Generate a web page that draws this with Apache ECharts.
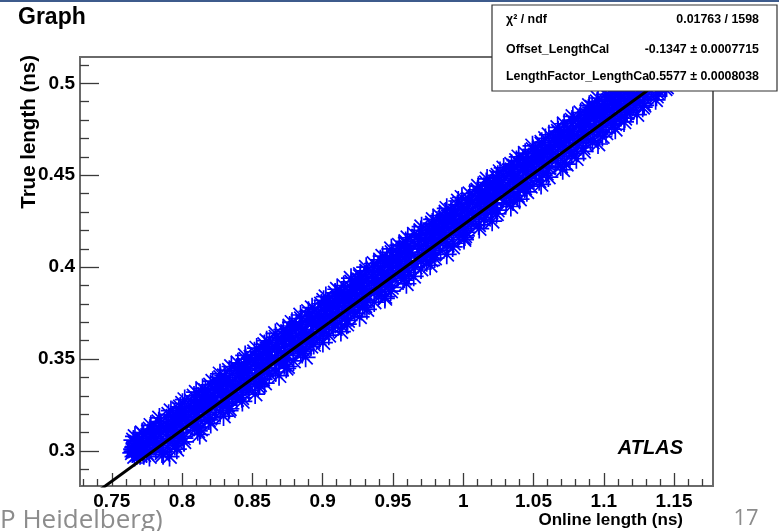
<!DOCTYPE html>
<html>
<head>
<meta charset="utf-8">
<script src="https://cdn.jsdelivr.net/npm/echarts@6/dist/echarts.min.js"></script>
<style>
  html, body { margin: 0; padding: 0; background: #fff; }
  #chart { width: 779px; height: 531px; }
</style>
</head>
<body>
<div id="chart"></div>
<script>
// Axis ranges (ns)
const onlineRange = [0.7274, 1.1777];
const trueRange = [0.281, 0.5143];

// Tick values
const xMajorTicks = [0.75, 0.8, 0.85, 0.9, 0.95, 1, 1.05, 1.1, 1.15];
const xMinorTicks = [0.73, 0.74, 0.76, 0.77, 0.78, 0.79, 0.81, 0.82, 0.83, 0.84, 0.86, 0.87, 0.88, 0.89,
  0.91, 0.92, 0.93, 0.94, 0.96, 0.97, 0.98, 0.99, 1.01, 1.02, 1.03, 1.04, 1.06, 1.07, 1.08, 1.09,
  1.11, 1.12, 1.13, 1.14, 1.16, 1.17];
const yMajorTicks = [0.3, 0.35, 0.4, 0.45, 0.5];
const yMinorTicks = [0.29, 0.31, 0.32, 0.33, 0.34, 0.36, 0.37, 0.38, 0.39, 0.41, 0.42, 0.43, 0.44,
  0.46, 0.47, 0.48, 0.49, 0.51];

// Linear fit result: true = offset + factor * online
const fitOffset = -0.1347;
const fitOffsetErr = 0.0007715;
const fitFactor = 0.5577;
const fitFactorErr = 0.0008038;
const chi2 = 0.01763;
const ndf = 1598;

// Graph points: [online length, true length]
const measurements = [
  [0.7662,0.297],[0.7701,0.298],[0.7768,0.297],[0.7865,0.298],
  [0.7646,0.299],[0.7667,0.300],[0.7747,0.299],[0.7867,0.300],
  [0.7652,0.301],[0.7743,0.302],[0.7813,0.301],[0.7853,0.302],
  [0.7699,0.303],[0.7749,0.304],[0.7809,0.303],[0.7969,0.304],
  [0.7674,0.305],[0.7804,0.306],[0.7894,0.305],[0.7934,0.306],
  [0.7750,0.307],[0.7800,0.308],[0.7900,0.307],[0.8000,0.308],
  [0.7726,0.309],[0.7896,0.310],[0.7946,0.309],[0.7986,0.310],
  [0.7802,0.311],[0.7892,0.312],[0.7942,0.311],[0.8132,0.312],
  [0.7888,0.313],[0.7938,0.314],[0.8028,0.313],[0.8088,0.314],
  [0.7844,0.315],[0.7954,0.316],[0.8034,0.315],[0.8104,0.316],
  [0.7939,0.317],[0.8029,0.318],[0.8119,0.317],[0.8199,0.318],
  [0.7935,0.319],[0.8015,0.320],[0.8095,0.319],[0.8185,0.320],
  [0.7991,0.321],[0.8091,0.322],[0.8161,0.321],[0.8331,0.322],
  [0.7977,0.323],[0.8107,0.324],[0.8187,0.323],[0.8237,0.324],
  [0.8093,0.325],[0.8183,0.326],[0.8243,0.325],[0.8313,0.326],
  [0.8069,0.327],[0.8169,0.328],[0.8229,0.327],[0.8389,0.328],
  [0.8145,0.329],[0.8225,0.330],[0.8285,0.329],[0.8355,0.330],
  [0.8160,0.331],[0.8280,0.332],[0.8360,0.331],[0.8430,0.332],
  [0.8166,0.333],[0.8266,0.334],[0.8366,0.333],[0.8436,0.334],
  [0.8282,0.335],[0.8342,0.336],[0.8382,0.335],[0.8552,0.336],
  [0.8258,0.337],[0.8358,0.338],[0.8458,0.337],[0.8518,0.338],
  [0.8314,0.339],[0.8434,0.340],[0.8464,0.339],[0.8524,0.340],
  [0.8300,0.341],[0.8420,0.342],[0.8520,0.341],[0.8620,0.342],
  [0.8406,0.343],[0.8476,0.344],[0.8586,0.343],[0.8606,0.344],
  [0.8391,0.345],[0.8531,0.346],[0.8561,0.345],[0.8751,0.346],
  [0.8447,0.347],[0.8517,0.348],[0.8617,0.347],[0.8687,0.348],
  [0.8523,0.349],[0.8593,0.350],[0.8673,0.349],[0.8743,0.350],
  [0.8489,0.351],[0.8609,0.352],[0.8659,0.351],[0.8739,0.352],
  [0.8575,0.353],[0.8685,0.354],[0.8735,0.353],[0.8845,0.354],
  [0.8581,0.355],[0.8671,0.356],[0.8791,0.355],[0.8821,0.356],
  [0.8677,0.357],[0.8727,0.358],[0.8787,0.357],[0.8937,0.358],
  [0.8622,0.359],[0.8782,0.360],[0.8832,0.359],[0.8912,0.360],
  [0.8708,0.361],[0.8768,0.362],[0.8888,0.361],[0.8918,0.362],
  [0.8764,0.363],[0.8844,0.364],[0.8884,0.363],[0.9004,0.364],
  [0.8750,0.365],[0.8860,0.366],[0.8980,0.365],[0.9010,0.366],
  [0.8806,0.367],[0.8936,0.368],[0.8986,0.367],[0.9136,0.368],
  [0.8812,0.369],[0.8922,0.370],[0.9002,0.369],[0.9072,0.370],
  [0.8918,0.371],[0.8978,0.372],[0.9068,0.371],[0.9158,0.372],
  [0.8903,0.373],[0.9033,0.374],[0.9053,0.373],[0.9133,0.374],
  [0.8969,0.375],[0.9019,0.376],[0.9119,0.375],[0.9199,0.376],
  [0.8945,0.377],[0.9095,0.378],[0.9185,0.377],[0.9285,0.378],
  [0.9071,0.379],[0.9111,0.380],[0.9201,0.379],[0.9251,0.380],
  [0.9037,0.381],[0.9187,0.382],[0.9207,0.381],[0.9317,0.382],
  [0.9103,0.383],[0.9173,0.384],[0.9283,0.383],[0.9443,0.384],
  [0.9159,0.385],[0.9229,0.386],[0.9289,0.385],[0.9369,0.386],
  [0.9134,0.387],[0.9284,0.388],[0.9334,0.387],[0.9384,0.388],
  [0.9200,0.389],[0.9270,0.390],[0.9410,0.389],[0.9470,0.390],
  [0.9276,0.391],[0.9346,0.392],[0.9416,0.391],[0.9466,0.392],
  [0.9262,0.393],[0.9362,0.394],[0.9412,0.393],[0.9582,0.394],
  [0.9268,0.395],[0.9438,0.396],[0.9498,0.395],[0.9558,0.396],
  [0.9364,0.397],[0.9424,0.398],[0.9504,0.397],[0.9564,0.398],
  [0.9360,0.399],[0.9480,0.400],[0.9580,0.399],[0.9660,0.400],
  [0.9465,0.401],[0.9535,0.402],[0.9585,0.401],[0.9655,0.402],
  [0.9461,0.403],[0.9521,0.404],[0.9601,0.403],[0.9771,0.404],
  [0.9457,0.405],[0.9597,0.406],[0.9677,0.405],[0.9717,0.406],
  [0.9553,0.407],[0.9613,0.408],[0.9703,0.407],[0.9783,0.408],
  [0.9549,0.409],[0.9689,0.410],[0.9769,0.409],[0.9779,0.410],
  [0.9595,0.411],[0.9675,0.412],[0.9755,0.411],[0.9885,0.412],
  [0.9591,0.413],[0.9731,0.414],[0.9801,0.413],[0.9871,0.414],
  [0.9706,0.415],[0.9786,0.416],[0.9856,0.415],[1.0006,0.416],
  [0.9682,0.417],[0.9772,0.418],[0.9842,0.417],[0.9932,0.418],
  [0.9758,0.419],[0.9848,0.420],[0.9918,0.419],[1.0008,0.420],
  [0.9824,0.421],[0.9864,0.422],[0.9974,0.421],[0.9994,0.422],
  [0.9780,0.423],[0.9940,0.424],[0.9970,0.423],[1.0060,0.424],
  [0.9856,0.425],[0.9926,0.426],[1.0036,0.425],[1.0146,0.426],
  [0.9872,0.427],[0.9982,0.428],[1.0032,0.427],[1.0112,0.428],
  [0.9947,0.429],[1.0037,0.430],[1.0087,0.429],[1.0197,0.430],
  [0.9913,0.431],[1.0023,0.432],[1.0163,0.431],[1.0193,0.432],
  [0.9989,0.433],[1.0099,0.434],[1.0169,0.433],[1.0209,0.434],
  [1.0065,0.435],[1.0115,0.436],[1.0215,0.435],[1.0355,0.436],
  [1.0041,0.437],[1.0191,0.438],[1.0221,0.437],[1.0311,0.438],
  [1.0117,0.439],[1.0177,0.440],[1.0237,0.439],[1.0327,0.440],
  [1.0103,0.441],[1.0233,0.442],[1.0333,0.441],[1.0403,0.442],
  [1.0218,0.443],[1.0288,0.444],[1.0338,0.443],[1.0478,0.444],
  [1.0194,0.445],[1.0274,0.446],[1.0394,0.445],[1.0424,0.446],
  [1.0250,0.447],[1.0350,0.448],[1.0390,0.447],[1.0480,0.448],
  [1.0236,0.449],[1.0366,0.450],[1.0456,0.449],[1.0566,0.450],
  [1.0342,0.451],[1.0442,0.452],[1.0522,0.451],[1.0542,0.452],
  [1.0348,0.453],[1.0428,0.454],[1.0508,0.453],[1.0608,0.454],
  [1.0364,0.455],[1.0484,0.456],[1.0574,0.455],[1.0734,0.456],
  [1.0459,0.457],[1.0539,0.458],[1.0589,0.457],[1.0659,0.458],
  [1.0425,0.459],[1.0525,0.460],[1.0655,0.459],[1.0675,0.460],
  [1.0511,0.461],[1.0601,0.462],[1.0631,0.461],[1.0771,0.462],
  [1.0517,0.463],[1.0617,0.464],[1.0707,0.463],[1.0757,0.464],
  [1.0613,0.465],[1.0693,0.466],[1.0753,0.465],[1.0813,0.466],
  [1.0559,0.467],[1.0679,0.468],[1.0759,0.467],[1.0919,0.468],
  [1.0645,0.469],[1.0735,0.470],[1.0845,0.469],[1.0875,0.470],
  [1.0700,0.471],[1.0790,0.472],[1.0820,0.471],[1.0890,0.472],
  [1.0686,0.473],[1.0776,0.474],[1.0876,0.473],[1.0976,0.474],
  [1.0742,0.475],[1.0852,0.476],[1.0932,0.475],[1.0972,0.476],
  [1.0818,0.477],[1.0868,0.478],[1.0978,0.477],[1.1078,0.478],
  [1.0784,0.479],[1.0944,0.480],[1.0994,0.479],[1.1064,0.480],
  [1.0870,0.481],[1.0930,0.482],[1.1010,0.481],[1.1070,0.482],
  [1.0876,0.483],[1.0986,0.484],[1.1076,0.483],[1.1166,0.484],
  [1.0971,0.485],[1.1041,0.486],[1.1061,0.485],[1.1161,0.486],
  [1.0917,0.487],[1.1027,0.488],[1.1127,0.487],[1.1287,0.488],
  [1.1003,0.489],[1.1103,0.490],[1.1193,0.489],[1.1223,0.490],
  [1.1059,0.491],[1.1119,0.492],[1.1209,0.491],[1.1289,0.492],
  [1.1045,0.493],[1.1195,0.494],[1.1215,0.493],[1.1285,0.494],
  [1.1101,0.495],[1.1181,0.496],[1.1291,0.495],[1.1391,0.496],
  [1.1177,0.497],[1.1237,0.498],[1.1307,0.497],[1.1447,0.498],
  [1.1142,0.499],[1.1292,0.500],[1.1382,0.499],[1.1442,0.500],

  [0.7678,0.298],[0.7911,0.297],[0.7728,0.298],
  [0.7655,0.300],[0.7857,0.299],[0.7687,0.300],
  [0.7660,0.302],[0.7963,0.301],[0.7663,0.302],
  [0.7668,0.304],[0.7949,0.303],[0.7739,0.304],
  [0.7654,0.306],[0.8014,0.305],[0.7814,0.306],
  [0.7665,0.308],[0.8010,0.307],[0.7780,0.308],
  [0.7716,0.310],[0.8126,0.309],[0.7856,0.310],
  [0.7772,0.312],[0.8112,0.311],[0.7832,0.312],
  [0.7778,0.314],[0.8108,0.313],[0.7948,0.314],
  [0.7834,0.316],[0.8204,0.315],[0.7944,0.316],
  [0.7839,0.318],[0.8189,0.317],[0.7999,0.318],
  [0.7905,0.320],[0.8295,0.319],[0.7995,0.320],
  [0.7921,0.322],[0.8271,0.321],[0.8101,0.322],
  [0.7987,0.324],[0.8337,0.323],[0.8047,0.324],
  [0.8003,0.326],[0.8323,0.325],[0.8123,0.326],
  [0.8019,0.328],[0.8429,0.327],[0.8189,0.328],
  [0.8085,0.330],[0.8425,0.329],[0.8165,0.330],
  [0.8100,0.332],[0.8520,0.331],[0.8240,0.332],
  [0.8146,0.334],[0.8476,0.333],[0.8256,0.334],
  [0.8202,0.336],[0.8542,0.335],[0.8342,0.336],
  [0.8218,0.338],[0.8588,0.337],[0.8308,0.338],
  [0.8274,0.340],[0.8574,0.339],[0.8414,0.340],
  [0.8270,0.342],[0.8690,0.341],[0.8410,0.342],
  [0.8336,0.344],[0.8666,0.343],[0.8466,0.344],
  [0.8351,0.346],[0.8741,0.345],[0.8441,0.346],
  [0.8397,0.348],[0.8727,0.347],[0.8567,0.348],
  [0.8453,0.350],[0.8793,0.349],[0.8543,0.350],
  [0.8449,0.352],[0.8879,0.351],[0.8619,0.352],
  [0.8515,0.354],[0.8855,0.353],[0.8605,0.354],
  [0.8531,0.356],[0.8861,0.355],[0.8671,0.356],
  [0.8587,0.358],[0.8917,0.357],[0.8727,0.358],
  [0.8602,0.360],[0.9002,0.359],[0.8722,0.360],
  [0.8668,0.362],[0.8978,0.361],[0.8728,0.362],
  [0.8664,0.364],[0.9044,0.363],[0.8844,0.364],
  [0.8720,0.366],[0.9130,0.365],[0.8850,0.366],
  [0.8766,0.368],[0.9076,0.367],[0.8846,0.368],
  [0.8782,0.370],[0.9172,0.369],[0.8932,0.370],
  [0.8848,0.372],[0.9178,0.371],[0.8928,0.372],
  [0.8843,0.374],[0.9263,0.373],[0.9033,0.374],
  [0.8899,0.376],[0.9229,0.375],[0.9019,0.376],
  [0.8925,0.378],[0.9315,0.377],[0.9055,0.378],
  [0.8991,0.380],[0.9301,0.379],[0.9051,0.380],
  [0.9007,0.382],[0.9367,0.381],[0.9157,0.382],
  [0.9023,0.384],[0.9443,0.383],[0.9153,0.384],
  [0.9089,0.386],[0.9399,0.385],[0.9239,0.386],
  [0.9104,0.388],[0.9484,0.387],[0.9214,0.388],
  [0.9150,0.390],[0.9490,0.389],[0.9280,0.390],
  [0.9206,0.392],[0.9596,0.391],[0.9276,0.392],
  [0.9202,0.394],[0.9572,0.393],[0.9362,0.394],
  [0.9268,0.396],[0.9648,0.395],[0.9428,0.396],
  [0.9314,0.398],[0.9614,0.397],[0.9394,0.398],
  [0.9310,0.400],[0.9700,0.399],[0.9470,0.400],
  [0.9365,0.402],[0.9765,0.401],[0.9535,0.402],
  [0.9411,0.404],[0.9741,0.403],[0.9491,0.404],
  [0.9427,0.406],[0.9797,0.405],[0.9557,0.406],
  [0.9493,0.408],[0.9883,0.407],[0.9623,0.408],
  [0.9489,0.410],[0.9839,0.409],[0.9589,0.410],
  [0.9545,0.412],[0.9925,0.411],[0.9675,0.412],
  [0.9591,0.414],[0.9931,0.413],[0.9691,0.414],
  [0.9606,0.416],[1.0006,0.415],[0.9776,0.416],
  [0.9652,0.418],[1.0012,0.417],[0.9782,0.418],
  [0.9698,0.420],[1.0018,0.419],[0.9778,0.420],
  [0.9704,0.422],[1.0114,0.421],[0.9884,0.422],
  [0.9780,0.424],[1.0110,0.423],[0.9870,0.424],
  [0.9786,0.426],[1.0206,0.425],[0.9936,0.426],
  [0.9832,0.428],[1.0152,0.427],[0.9912,0.428],
  [0.9877,0.430],[1.0237,0.429],[1.0037,0.430],
  [0.9883,0.432],[1.0243,0.431],[1.0023,0.432],
  [0.9959,0.434],[1.0339,0.433],[1.0039,0.434],
  [0.9965,0.436],[1.0305,0.435],[1.0125,0.436],
  [0.9991,0.438],[1.0401,0.437],[1.0171,0.438],
  [1.0047,0.440],[1.0387,0.439],[1.0157,0.440],
  [1.0103,0.442],[1.0453,0.441],[1.0173,0.442],
  [1.0108,0.444],[1.0438,0.443],[1.0258,0.444],
  [1.0164,0.446],[1.0554,0.445],[1.0274,0.446],
  [1.0170,0.448],[1.0540,0.447],[1.0360,0.448],
  [1.0246,0.450],[1.0606,0.449],[1.0326,0.450],
  [1.0262,0.452],[1.0592,0.451],[1.0342,0.452],
  [1.0288,0.454],[1.0708,0.453],[1.0448,0.454],
  [1.0344,0.456],[1.0694,0.455],[1.0464,0.456],
  [1.0379,0.458],[1.0719,0.457],[1.0449,0.458],
  [1.0395,0.460],[1.0805,0.459],[1.0555,0.460],
  [1.0441,0.462],[1.0771,0.461],[1.0561,0.462],
  [1.0497,0.464],[1.0857,0.463],[1.0577,0.464],
  [1.0493,0.466],[1.0853,0.465],[1.0673,0.466],
  [1.0559,0.468],[1.0959,0.467],[1.0679,0.468],
  [1.0585,0.470],[1.0905,0.469],[1.0675,0.470],
  [1.0610,0.472],[1.0990,0.471],[1.0760,0.472],
  [1.0676,0.474],[1.1016,0.473],[1.0766,0.474],
  [1.0672,0.476],[1.1082,0.475],[1.0862,0.476],
  [1.0718,0.478],[1.1058,0.477],[1.0868,0.478],
  [1.0774,0.480],[1.1144,0.479],[1.0864,0.480],
  [1.0780,0.482],[1.1150,0.481],[1.0950,0.482],
  [1.0836,0.484],[1.1236,0.483],[1.0956,0.484],
  [1.0891,0.486],[1.1191,0.485],[1.0951,0.486],
  [1.0897,0.488],[1.1277,0.487],[1.1067,0.488],
  [1.0953,0.490],[1.1283,0.489],[1.1053,0.490],
  [1.0959,0.492],[1.1369,0.491],[1.1109,0.492],
  [1.1015,0.494],[1.1375,0.493],[1.1105,0.494],
  [1.1051,0.496],[1.1381,0.495],[1.1201,0.496],
  [1.1077,0.498],[1.1437,0.497],[1.1207,0.498],
  [1.1132,0.500],[1.1432,0.499],[1.1262,0.500]
];

// Fitted straight line across the full horizontal range
const fitLine = onlineRange.map(x => [x, fitOffset + fitFactor * x]);

const FONT = '"Liberation Sans", Arial, Helvetica, sans-serif';
const tickColor = '#3a3a3a';
const frameColor = '#6a6a6a';

// ROOT-style asterisk marker
const asterisk = 'path://M0,-8L0,8M-8,0L8,0M-5.66,-5.66L5.66,5.66M-5.66,5.66L5.66,-5.66';

function valueAxis(range, ticks, len, withLabels, labelOpts) {
  return {
    type: 'value',
    min: range[0],
    max: range[1],
    axisLine: { show: false },
    splitLine: { show: false },
    axisTick: {
      show: true, inside: true, length: len, customValues: ticks,
      lineStyle: { color: tickColor, width: 1.3 }
    },
    axisLabel: withLabels ? Object.assign({
      customValues: ticks,
      color: '#000',
      fontFamily: FONT,
      fontWeight: 'bold',
      fontSize: 19
    }, labelOpts) : { show: false }
  };
}

const chart = echarts.init(document.getElementById('chart'), null, { renderer: 'canvas' });

const fmt = v => v.toString();
const STAT_FONT = 'bold 12.4px ' + FONT;

chart.setOption({
  animation: false,
  backgroundColor: '#fff',
  grid: {
    left: 80, top: 57, width: 633, height: 429,
    show: true, borderColor: frameColor, borderWidth: 2,
    backgroundColor: 'transparent',
    containLabel: false,
    outerBoundsMode: 'none'
  },
  xAxis: [
    Object.assign(valueAxis(onlineRange, xMajorTicks, 13, true, { margin: 6 }), { position: 'bottom' }),
    Object.assign(valueAxis(onlineRange, xMinorTicks, 7, false), { position: 'bottom' })
  ],
  yAxis: [
    Object.assign(valueAxis(trueRange, yMajorTicks, 19, true, { margin: 5 }), { position: 'left' }),
    Object.assign(valueAxis(trueRange, yMinorTicks, 9, false), { position: 'left' })
  ],
  series: [
    {
      type: 'scatter',
      xAxisIndex: 0, yAxisIndex: 0,
      data: measurements,
      symbol: asterisk,
      symbolSize: 20,
      z: 2,
      itemStyle: { color: '#0000ff', borderColor: '#0000ff', borderWidth: 1.7, opacity: 1 },
      emphasis: { disabled: true },
      silent: true
    },
    {
      type: 'line',
      xAxisIndex: 0, yAxisIndex: 0,
      data: fitLine,
      showSymbol: false,
      clip: true,
      z: 3,
      lineStyle: { color: '#000', width: 3 },
      emphasis: { disabled: true },
      silent: true
    }
  ],
  graphic: [
    // slide border strip
    { type: 'rect', shape: { x: 0, y: 0, width: 779, height: 2 }, style: { fill: '#3d5b8c' }, z: 100 },
    // title
    { type: 'text', x: 18, y: 18, z: 100,
      style: { text: 'Graph', font: 'bold 23px ' + FONT, fill: '#000', align: 'left', verticalAlign: 'middle' } },
    // axis titles
    { type: 'text', x: 29, y: 55, rotation: Math.PI / 2, z: 100,
      style: { text: 'True length (ns)', font: 'bold 20.5px ' + FONT, fill: '#000', align: 'right', verticalAlign: 'middle' } },
    { type: 'text', x: 683, y: 520, z: 100,
      style: { text: 'Online length (ns)', font: 'bold 17px ' + FONT, fill: '#000', align: 'right', verticalAlign: 'middle' } },
    // experiment label
    { type: 'text', x: 683, y: 448, z: 100,
      style: { text: 'ATLAS', font: 'italic bold 20px ' + FONT, fill: '#000', align: 'right', verticalAlign: 'middle' } },
    // fit statistics box
    { type: 'rect', z: 200, shape: { x: 492, y: 5, width: 285, height: 86 },
      style: { fill: '#fff', stroke: '#333', lineWidth: 1.2 } },
    { type: 'text', x: 506, y: 20, z: 201,
      style: { text: 'χ² / ndf', font: STAT_FONT, fill: '#000', align: 'left', verticalAlign: 'middle' } },
    { type: 'text', x: 759, y: 20, z: 201,
      style: { text: fmt(chi2) + ' / ' + ndf, font: STAT_FONT, fill: '#000', align: 'right', verticalAlign: 'middle' } },
    { type: 'text', x: 506, y: 50, z: 201,
      style: { text: 'Offset_LengthCal', font: STAT_FONT, fill: '#000', align: 'left', verticalAlign: 'middle' } },
    { type: 'text', x: 759, y: 50, z: 201,
      style: { text: fmt(fitOffset) + ' ± ' + fmt(fitOffsetErr), font: STAT_FONT, fill: '#000', align: 'right', verticalAlign: 'middle' } },
    { type: 'text', x: 506, y: 77, z: 201,
      style: { text: 'LengthFactor_LengthCa', font: STAT_FONT, fill: '#000', align: 'left', verticalAlign: 'middle' } },
    { type: 'text', x: 759, y: 77, z: 201,
      style: { text: fmt(fitFactor) + ' ± ' + fmt(fitFactorErr), font: STAT_FONT, fill: '#000', align: 'right', verticalAlign: 'middle' } },
    // slide footer
    { type: 'text', x: 0, y: 521, z: 100,
      style: { text: 'P Heidelberg)', font: '26px "Open Sans", sans-serif', fill: '#8c8c8c', align: 'left', verticalAlign: 'middle' } },
    { type: 'text', x: 746, y: 519, z: 100,
      style: { text: '17', font: '22px "Open Sans", sans-serif', fill: '#8c8c8c', align: 'center', verticalAlign: 'middle' } }
  ]
});
</script>
</body>
</html>
